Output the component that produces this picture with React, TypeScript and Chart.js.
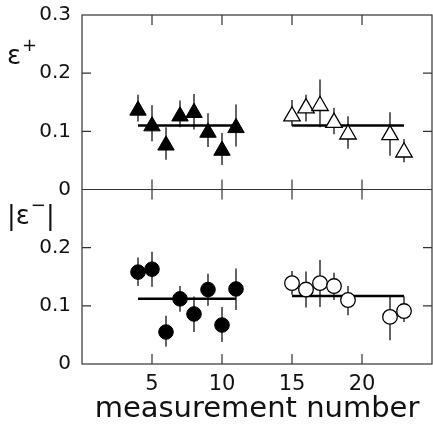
import React, { useEffect, useRef } from 'react';
import { Chart, registerables } from 'chart.js';

Chart.register(...registerables);

// measurement numbers
const xFilled = [4, 5, 6, 7, 8, 9, 10, 11];
const xOpen = [15, 16, 17, 18, 19, 22, 23];

// epsilon+ (top panel)
const epsPlusFilled = [0.136, 0.109, 0.076, 0.126, 0.132, 0.098, 0.067, 0.106];
const epsPlusFilledHi = [0.163, 0.145, 0.107, 0.153, 0.164, 0.131, 0.097, 0.146];
const epsPlusFilledLo = [0.117, 0.083, 0.051, 0.107, 0.103, 0.073, 0.042, 0.074];
const epsPlusOpen = [0.126, 0.14, 0.144, 0.115, 0.095, 0.094, 0.064];
const epsPlusOpenHi = [0.154, 0.163, 0.189, 0.14, 0.126, 0.133, 0.087];
const epsPlusOpenLo = [0.109, 0.117, 0.107, 0.095, 0.07, 0.058, 0.047];

// |epsilon-| (bottom panel)
const epsMinusFilled = [0.158, 0.163, 0.055, 0.112, 0.086, 0.128, 0.067, 0.129];
const epsMinusFilledHi = [0.183, 0.193, 0.083, 0.134, 0.116, 0.155, 0.098, 0.164];
const epsMinusFilledLo = [0.134, 0.133, 0.03, 0.09, 0.055, 0.1, 0.038, 0.093];
const epsMinusOpen = [0.139, 0.128, 0.139, 0.134, 0.11, 0.081, 0.091];
const epsMinusOpenHi = [0.16, 0.159, 0.179, 0.157, 0.134, 0.116, 0.116];
const epsMinusOpenLo = [0.119, 0.097, 0.098, 0.11, 0.084, 0.041, 0.072];

// fitted averages and their ranges
const fitRangeFilled = [4, 11];
const fitRangeOpen = [15, 23];
const fitPlusFilled = 0.11;
const fitPlusOpen = 0.11;
const fitMinusFilled = 0.112;
const fitMinusOpen = 0.117;

// axes
const xTicks = [5, 10, 15, 20];
const yInnerTicks = [0.1, 0.2];
const xTitle = 'measurement number';

const FONT = "'DejaVu Sans', sans-serif";
const INK = '#111';

const pts = (xs: number[], ys: number[]) => xs.map((x, i) => ({ x, y: ys[i] }));
const fit = (range: number[], v: number) => range.map((x) => ({ x, y: v }));

const errorBarPlugin = {
  id: 'errorBars',
  beforeDatasetsDraw(chart: any) {
    const ctx = chart.ctx;
    ctx.save();
    ctx.strokeStyle = INK;
    ctx.lineWidth = 1.3;
    chart.data.datasets.forEach((ds: any, i: number) => {
      if (!ds.errHi) return;
      const meta = chart.getDatasetMeta(i);
      const ys = chart.scales[ds.yAxisID];
      meta.data.forEach((el: any, j: number) => {
        const x = el.x;
        ctx.beginPath();
        ctx.moveTo(x, ys.getPixelForValue(ds.errLo[j]));
        ctx.lineTo(x, ys.getPixelForValue(ds.errHi[j]));
        ctx.stroke();
      });
    });
    ctx.restore();
  },
};

const framePlugin = {
  id: 'frame',
  afterDatasetsDraw(chart: any) {
    const ctx = chart.ctx;
    const { left, right, top, bottom } = chart.chartArea;
    const xs = chart.scales.x;
    const yT = chart.scales.yTop;
    const yB = chart.scales.yBot;
    const mid = yT.getPixelForValue(0);
    const tl = 10;
    ctx.save();
    ctx.strokeStyle = '#333';
    ctx.lineWidth = 1.2;
    ctx.strokeRect(left, top, right - left, bottom - top);
    ctx.beginPath();
    ctx.moveTo(left, mid);
    ctx.lineTo(right, mid);
    xTicks.forEach((v) => {
      const px = xs.getPixelForValue(v);
      ctx.moveTo(px, top);
      ctx.lineTo(px, top + tl);
      ctx.moveTo(px, mid - tl);
      ctx.lineTo(px, mid + tl);
      ctx.moveTo(px, bottom - tl);
      ctx.lineTo(px, bottom);
    });
    [yT, yB].forEach((s) => {
      yInnerTicks.forEach((v) => {
        const py = s.getPixelForValue(v);
        ctx.moveTo(left, py);
        ctx.lineTo(left + 9, py);
        ctx.moveTo(right - 9, py);
        ctx.lineTo(right, py);
      });
    });
    ctx.stroke();
    ctx.restore();
  },
};

const panelLabelPlugin = {
  id: 'panelLabels',
  afterDraw(chart: any) {
    const ctx = chart.ctx;
    const yT = chart.scales.yTop;
    const yB = chart.scales.yBot;
    ctx.save();
    ctx.fillStyle = INK;
    ctx.textBaseline = 'alphabetic';
    ctx.textAlign = 'left';
    const big = `26px ${FONT}`;
    const small = `18px ${FONT}`;
    // epsilon+
    let x = 7;
    let base = yT.getPixelForValue(0.215);
    ctx.font = big;
    ctx.fillText('ε', x, base);
    x += ctx.measureText('ε').width + 1;
    ctx.font = small;
    ctx.fillText('+', x, base - 13);
    // |epsilon-|
    x = 7;
    base = yB.getPixelForValue(0.24);
    ctx.font = big;
    ctx.fillText('|', x, base);
    x += ctx.measureText('|').width;
    ctx.fillText('ε', x, base);
    x += ctx.measureText('ε').width + 1;
    ctx.font = small;
    ctx.fillText('−', x, base - 13);
    x += ctx.measureText('−').width;
    ctx.font = big;
    ctx.fillText('|', x, base);
    ctx.restore();
  },
};

const yTickCb = (hideTop: boolean) => (v: any) => {
  const n = Number(v);
  if (hideTop && Math.abs(n - 0.3) < 1e-6) return '';
  return Math.abs(n) < 1e-9 ? '0' : n.toFixed(1);
};

const zeroPad = (s: any) => {
  s.paddingTop = 0;
  s.paddingBottom = 0;
  s.paddingLeft = 0;
  s.paddingRight = 0;
};

export default function App() {
  const ref = useRef<HTMLCanvasElement>(null);
  useEffect(() => {
    if (!ref.current) return;
    const triR = 9.5;
    const circR = 7.3;
    const chart = new Chart(ref.current, {
      type: 'scatter',
      data: {
        datasets: [
          {
            data: pts(xFilled, epsPlusFilled),
            errHi: epsPlusFilledHi,
            errLo: epsPlusFilledLo,
            yAxisID: 'yTop',
            pointStyle: 'triangle',
            pointRadius: triR,
            backgroundColor: '#000',
            borderColor: '#000',
            borderWidth: 1,
          },
          {
            data: pts(xOpen, epsPlusOpen),
            errHi: epsPlusOpenHi,
            errLo: epsPlusOpenLo,
            yAxisID: 'yTop',
            pointStyle: 'triangle',
            pointRadius: triR,
            backgroundColor: '#fff',
            borderColor: '#000',
            borderWidth: 1.3,
          },
          {
            data: pts(xFilled, epsMinusFilled),
            errHi: epsMinusFilledHi,
            errLo: epsMinusFilledLo,
            yAxisID: 'yBot',
            pointStyle: 'circle',
            pointRadius: circR,
            backgroundColor: '#000',
            borderColor: '#000',
            borderWidth: 1,
          },
          {
            data: pts(xOpen, epsMinusOpen),
            errHi: epsMinusOpenHi,
            errLo: epsMinusOpenLo,
            yAxisID: 'yBot',
            pointStyle: 'circle',
            pointRadius: circR,
            backgroundColor: '#fff',
            borderColor: '#000',
            borderWidth: 1.3,
          },
          ...[
            [fitRangeFilled, fitPlusFilled, 'yTop'],
            [fitRangeOpen, fitPlusOpen, 'yTop'],
            [fitRangeFilled, fitMinusFilled, 'yBot'],
            [fitRangeOpen, fitMinusOpen, 'yBot'],
          ].map(([r, v, ax]: any) => ({
            data: fit(r, v),
            yAxisID: ax,
            showLine: true,
            pointRadius: 0,
            borderColor: '#000',
            borderWidth: 2.5,
            backgroundColor: '#000',
          })),
        ] as any,
      },
      options: {
        animation: false,
        responsive: false,
        devicePixelRatio: 1,
        layout: { autoPadding: false, padding: { top: 15, right: 1, left: 0, bottom: 0 } },
        plugins: { legend: { display: false }, tooltip: { enabled: false } },
        scales: {
          x: {
            type: 'linear',
            min: 0,
            max: 25,
            grid: { display: false, drawTicks: false },
            border: { display: false },
            ticks: {
              stepSize: 5,
              autoSkip: false,
              maxRotation: 0,
              padding: 8,
              color: INK,
              font: { family: FONT, size: 21 },
              callback: (v: any) => (Number(v) === 0 || Number(v) === 25 ? '' : String(v)),
            },
            title: {
              display: true,
              text: xTitle,
              color: INK,
              font: { family: FONT, size: 29 },
              padding: { top: 0, bottom: 1 },
            },
            afterFit: (s: any) => {
              s.height = 64;
              zeroPad(s);
            },
          },
          yTop: {
            type: 'linear',
            position: 'left',
            stack: 'panels',
            stackWeight: 1,
            weight: 1,
            min: 0,
            max: 0.3,
            grid: { display: false, drawTicks: false },
            border: { display: false },
            ticks: {
              stepSize: 0.1,
              padding: 11,
              color: INK,
              font: { family: FONT, size: 20 },
              callback: yTickCb(false),
            },
            afterFit: (s: any) => {
              s.width = 82;
              zeroPad(s);
            },
          },
          yBot: {
            type: 'linear',
            position: 'left',
            stack: 'panels',
            stackWeight: 1,
            weight: 0,
            min: 0,
            max: 0.3,
            grid: { display: false, drawTicks: false },
            border: { display: false },
            ticks: {
              stepSize: 0.1,
              padding: 11,
              color: INK,
              font: { family: FONT, size: 20 },
              callback: yTickCb(true),
            },
            afterFit: (s: any) => {
              s.width = 82;
              zeroPad(s);
            },
          },
        },
      } as any,
      plugins: [errorBarPlugin, framePlugin, panelLabelPlugin],
    });
    return () => chart.destroy();
  }, []);
  return (
    <div style={{ position: 'fixed', left: 0, top: 0, width: 433, height: 428, background: '#fff' }}>
      <canvas ref={ref} width={433} height={428} style={{ display: 'block' }} />
    </div>
  );
}
